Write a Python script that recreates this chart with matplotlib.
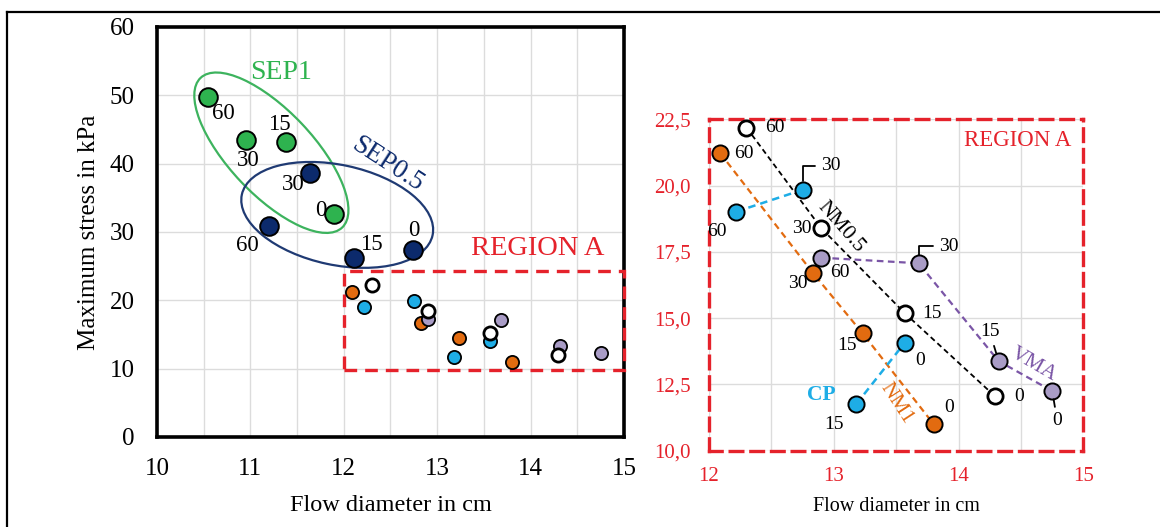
import numpy as np
import matplotlib
matplotlib.use('Agg')
import matplotlib.pyplot as plt
from matplotlib.patches import Ellipse, Rectangle
from matplotlib.transforms import ScaledTranslation
from matplotlib.lines import Line2D
from matplotlib.ticker import FuncFormatter

plt.rcParams['font.family'] = ['Liberation Serif', 'DejaVu Serif']

#%% Datos (diametro de flujo [cm], tension maxima [kPa]) para 60, 30, 15, 0
etiquetas = ['60', '30', '15', '0']

sep1_x = [10.55, 10.95, 11.38, 11.90]
sep1_y = [49.8, 43.5, 43.2, 32.7]
sep05_x = [11.20, 11.64, 12.11, 12.74]
sep05_y = [30.9, 38.7, 26.2, 27.4]

nm1_x = [12.09, 12.83, 13.23, 13.80]
nm1_y = [21.22, 16.72, 14.43, 11.00]
nm05_x = [12.30, 12.90, 13.57, 14.29]
nm05_y = [22.19, 18.39, 15.18, 12.06]
cp_x = [12.22, 12.75, 13.18, 13.57]
cp_y = [19.02, 19.84, 11.76, 14.08]
vma_x = [12.90, 13.68, 14.32, 14.75]
vma_y = [17.28, 17.07, 13.38, 12.25]

#%% Colores
verde = '#2eb34f'
azul = '#0c2a6c'
naranja = '#e26b10'
celeste = '#1eade6'
lila = '#a99cc6'
violeta = '#7a55a6'
rojo = '#e5222b'
gris = '#dcdcdc'

fig = plt.figure(figsize=(11.6, 5.27), dpi=100)

# marco de la figura
fig.add_artist(Line2D([0.006, 1.0], [0.977, 0.977], transform=fig.transFigure, color='black', lw=1.6))
fig.add_artist(Line2D([0.006, 0.006], [0.0, 0.977], transform=fig.transFigure, color='black', lw=1.6))

#%% Panel izquierdo
ax = fig.add_axes([0.1353, 0.1708, 0.4026, 0.778])
ax.set_xlim(10, 15)
ax.set_ylim(0, 60)
ax.set_xticks(np.arange(10, 16, 1))
ax.set_xticks(np.arange(10, 15.01, 0.5), minor=True)
ax.set_yticks(np.arange(0, 61, 10))
ax.grid(True, which='both', axis='x', color=gris, lw=1)
ax.grid(True, which='major', axis='y', color=gris, lw=1)
ax.set_axisbelow(True)
for s in ax.spines.values():
    s.set_linewidth(2.6)
    s.set_color('black')
ax.tick_params(which='both', length=0, labelsize=18)
ax.tick_params(axis='x', pad=15)
ax.tick_params(axis='y', pad=16)
ax.set_xlabel('Flow diameter in cm', fontsize=17.5, labelpad=11)
ax.set_ylabel('Maximum stress in kPa', fontsize=18, labelpad=7)

ax.scatter(sep1_x, sep1_y, s=180, c=verde, edgecolors='black', linewidths=1.4, zorder=4)
ax.scatter(sep05_x, sep05_y, s=180, c=azul, edgecolors='black', linewidths=1.4, zorder=4)
ax.scatter(nm1_x, nm1_y, s=90, c=naranja, edgecolors='black', linewidths=1.3, zorder=4)
ax.scatter(cp_x, cp_y, s=90, c=celeste, edgecolors='black', linewidths=1.3, zorder=4)
ax.scatter(vma_x, vma_y, s=90, c=lila, edgecolors='black', linewidths=1.3, zorder=4)
ax.scatter(nm05_x, nm05_y, s=90, c='white', edgecolors='black', linewidths=2.0, zorder=5)

off_sep1 = [(10.5, -12.3), (2, -14.8), (-5, 12.8), (-9.5, 2.5)]
off_sep05 = [(-15.5, -14.3), (-12, -8.9), (12.5, 9.8), (0.7, 13.8)]
for xx, yy, lab, off in zip(sep1_x, sep1_y, etiquetas, off_sep1):
    ax.annotate(lab, (xx, yy), xytext=off, textcoords='offset points',
                ha='center', va='center', fontsize=16.5, zorder=6)
for xx, yy, lab, off in zip(sep05_x, sep05_y, etiquetas, off_sep05):
    ax.annotate(lab, (xx, yy), xytext=off, textcoords='offset points',
                ha='center', va='center', fontsize=16.5, zorder=6)

# elipses (tamaño en pulgadas, centro en datos)
tr1 = fig.dpi_scale_trans + ScaledTranslation(11.225, 41.6, ax.transData)
ax.add_patch(Ellipse((0, 0), 2.06, 0.84, angle=-46.6, transform=tr1,
                     fill=False, edgecolor='#3db35e', lw=1.6, zorder=3))
tr2 = fig.dpi_scale_trans + ScaledTranslation(11.93, 32.5, ax.transData)
ax.add_patch(Ellipse((0, 0), 1.95, 1.00, angle=-12, transform=tr2,
                     fill=False, edgecolor='#1f3a73', lw=1.6, zorder=3))
ax.text(11.33, 53.4, 'SEP1', color=verde, fontsize=20, ha='center', va='center')
ax.text(12.47, 39.9, 'SEP0.5', color=azul, fontsize=19.5, ha='center', va='center', rotation=-33)

ax.add_patch(Rectangle((12, 9.8), 3, 14.5, fill=False, edgecolor=rojo, lw=2.4,
                       linestyle=(0, (3.8, 2.4)), zorder=3, clip_on=False))
ax.text(14.08, 27.6, 'REGION A', color=rojo, fontsize=20.5, ha='center', va='center')

#%% Panel derecho (REGION A)
ax2 = fig.add_axes([0.6112, 0.1448, 0.3228, 0.6288])
ax2.set_xlim(12, 15)
ax2.set_ylim(10, 22.5)
ax2.set_xticks(np.arange(12, 16, 1))
ax2.set_xticks(np.arange(12, 15.01, 0.5), minor=True)
ax2.set_yticks(np.arange(10, 22.6, 2.5))
ax2.yaxis.set_major_formatter(FuncFormatter(lambda v, p: f'{v:.1f}'.replace('.', ',')))
ax2.grid(True, which='both', axis='x', color=gris, lw=1)
ax2.grid(True, which='major', axis='y', color=gris, lw=1)
ax2.set_axisbelow(True)
for s in ax2.spines.values():
    s.set_color(rojo)
    s.set_linewidth(2.4)
    s.set_linestyle((0, (3.8, 2.4)))
ax2.tick_params(which='both', length=0, labelsize=15, labelcolor=rojo)
ax2.tick_params(axis='x', pad=12)
ax2.tick_params(axis='y', pad=13)
ax2.set_xlabel('Flow diameter in cm', fontsize=14.5, labelpad=8)

ls = (0, (3, 2))
ax2.plot(nm1_x, nm1_y, color=naranja, lw=1.6, linestyle=ls, zorder=2)
ax2.plot(nm05_x, nm05_y, color='black', lw=1.3, linestyle=ls, zorder=2)
ax2.plot(vma_x, vma_y, color=violeta, lw=1.6, linestyle=ls, zorder=2)
ax2.plot(cp_x[:2], cp_y[:2], color=celeste, lw=1.8, linestyle=ls, zorder=2)
ax2.plot(cp_x[2:], cp_y[2:], color=celeste, lw=1.8, linestyle=ls, zorder=2)

ax2.scatter(nm1_x, nm1_y, s=135, c=naranja, edgecolors='black', linewidths=1.4, zorder=4)
ax2.scatter(cp_x, cp_y, s=135, c=celeste, edgecolors='black', linewidths=1.4, zorder=4)
ax2.scatter(vma_x, vma_y, s=135, c=lila, edgecolors='black', linewidths=1.4, zorder=4)
ax2.scatter(nm05_x, nm05_y, s=120, c='white', edgecolors='black', linewidths=2.0, zorder=5)

def etiquetar(xs, ys, offs, lideres=None):
    for i, (xx, yy, lab, off) in enumerate(zip(xs, ys, etiquetas, offs)):
        arrow = None
        if lideres and lideres[i] is not None:
            arrow = dict(arrowstyle='-', color='black', lw=1.3, shrinkA=2, shrinkB=6,
                         connectionstyle=lideres[i])
        ax2.annotate(lab, (xx, yy), xytext=off, textcoords='offset points',
                     ha='center', va='center', fontsize=14, zorder=6, arrowprops=arrow)

etiquetar(nm05_x, nm05_y, [(20.5, 0), (-14, 0), (19.5, -0.4), (17.5, -0.4)])
etiquetar(nm1_x, nm1_y, [(17, 0), (-10.5, -8), (-11.5, -8.6), (11, 11.8)])
etiquetar(cp_x, cp_y, [(-14, -14), (20, 17.2), (-16, -14.8), (11, -13)],
          [None, 'angle,angleA=0,angleB=90,rad=0', None, None])
etiquetar(vma_x, vma_y, [(13, -10.5), (21.5, 12.4), (-6.3, 21), (3.6, -21.5)],
          [None, 'angle,angleA=0,angleB=90,rad=0', 'arc3', 'arc3'])

ax2.text(13.06, 18.45, 'NM0.5', fontsize=15.5, rotation=-49, ha='center', va='center', zorder=6)
ax2.text(14.6, 13.23, 'VMA', fontsize=15.5, color=violeta, rotation=-30, ha='center', va='center', zorder=6)
ax2.text(12.9, 12.1, 'CP', fontsize=15.5, color=celeste, fontweight='bold', ha='center', va='center', zorder=6)
ax2.text(13.5, 11.79, 'NM1', fontsize=15.5, color=naranja, rotation=-57, ha='center', va='center', zorder=6)
ax2.text(14.47, 21.7, 'REGION A', fontsize=16.5, color=rojo, ha='center', va='center', zorder=6)

plt.savefig('out.png', dpi=100)
plt.close()
